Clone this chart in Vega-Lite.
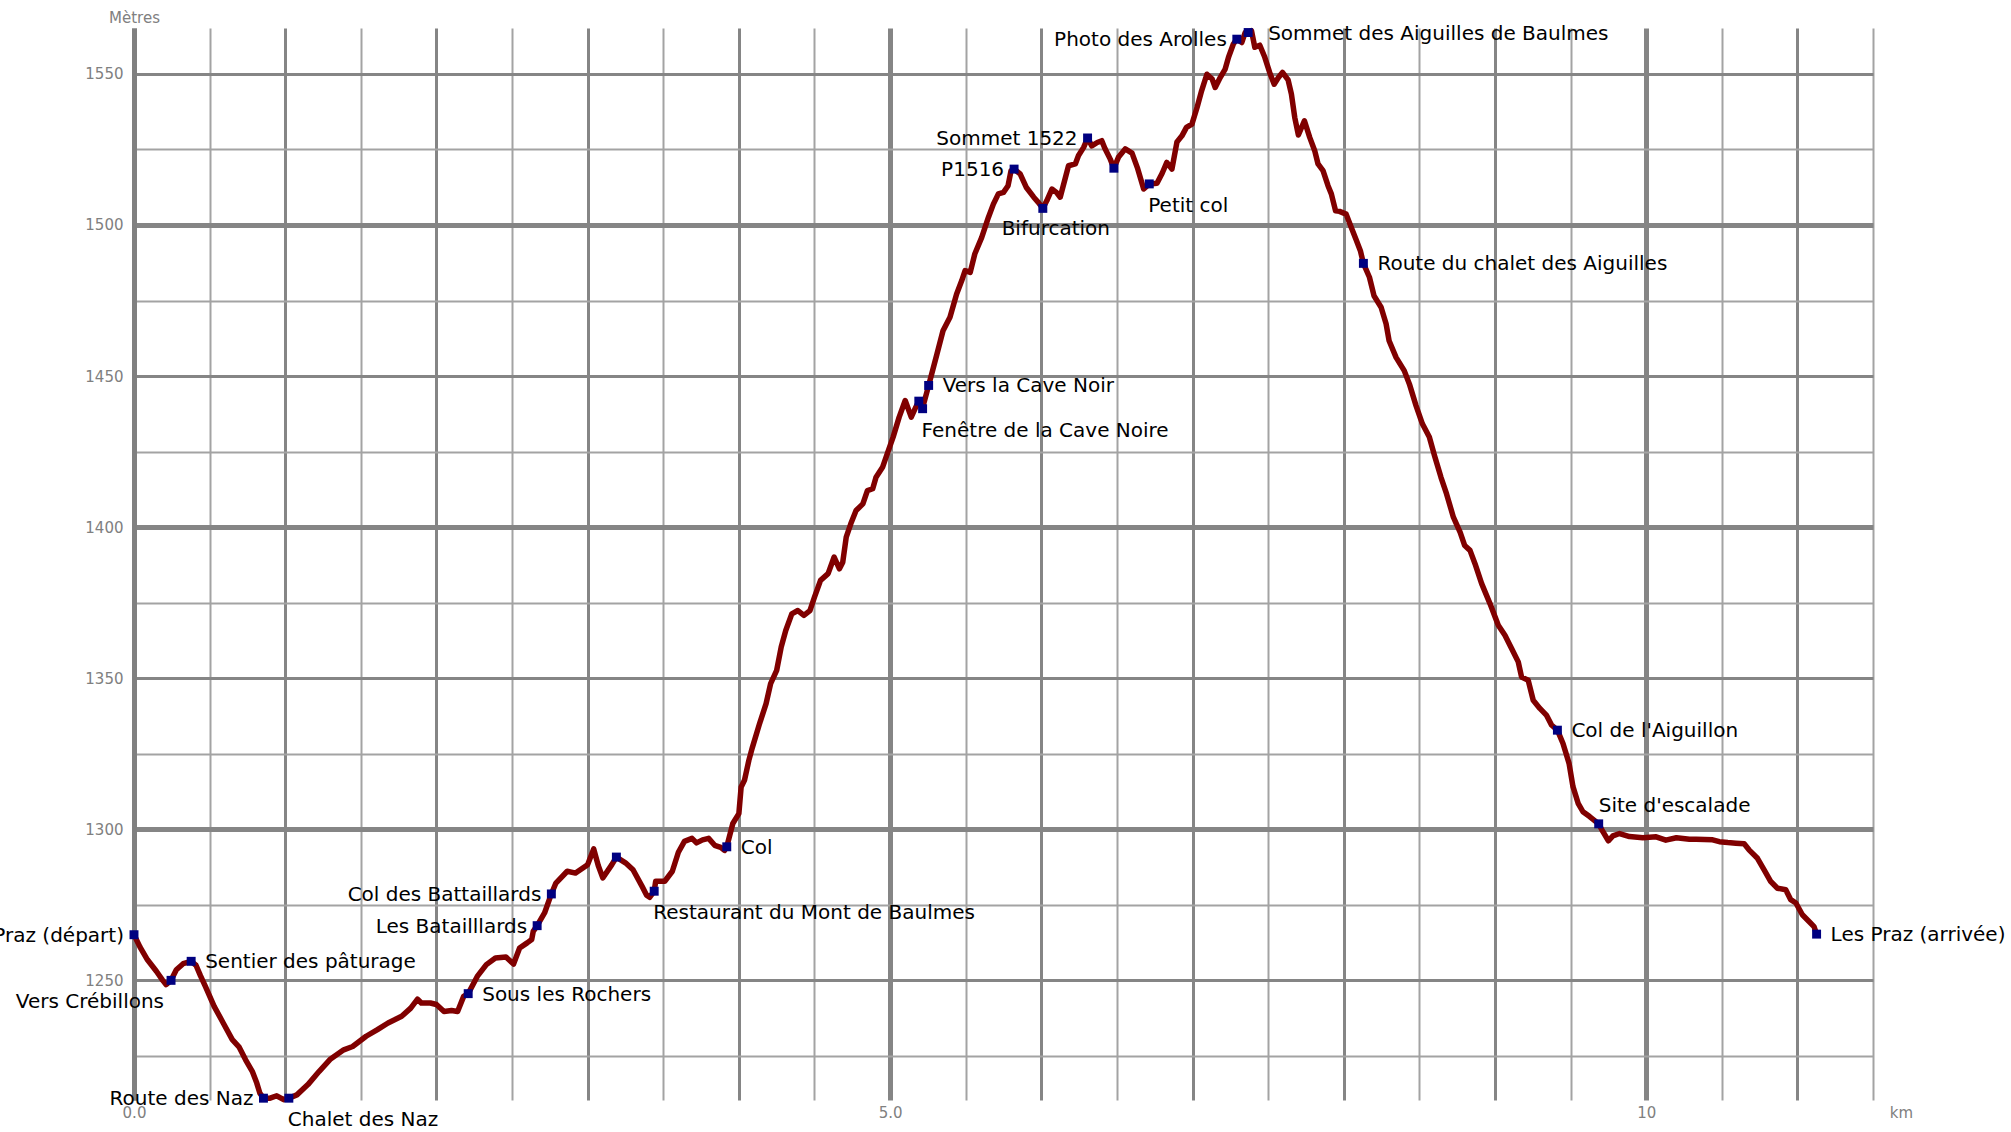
{
  "$schema": "https://vega.github.io/schema/vega-lite/v6.json",
  "width": 1739,
  "height": 1072,
  "autosize": {"type": "none"},
  "padding": {"left": 134, "top": 28, "right": 138, "bottom": 32},
  "background": "white",
  "config": {"view": {"stroke": null}},
  "datasets": {
    "profile": [
      {"km": 0, "alt": 1265.1}, {"km": 0.04, "alt": 1261}, {"km": 0.089, "alt": 1256.8}, {"km": 0.148, "alt": 1253},
      {"km": 0.19, "alt": 1250}, {"km": 0.212, "alt": 1248.6}, {"km": 0.245, "alt": 1250}, {"km": 0.28, "alt": 1253.5},
      {"km": 0.325, "alt": 1255.5}, {"km": 0.378, "alt": 1256.3}, {"km": 0.41, "alt": 1255}, {"km": 0.44, "alt": 1251.5},
      {"km": 0.472, "alt": 1248}, {"km": 0.53, "alt": 1241.4}, {"km": 0.59, "alt": 1235.9}, {"km": 0.65, "alt": 1230.4},
      {"km": 0.694, "alt": 1228}, {"km": 0.738, "alt": 1223.7}, {"km": 0.782, "alt": 1219.9}, {"km": 0.812, "alt": 1216},
      {"km": 0.832, "alt": 1212.7}, {"km": 0.856, "alt": 1211}, {"km": 0.9, "alt": 1211}, {"km": 0.944, "alt": 1211.8},
      {"km": 0.99, "alt": 1210.5}, {"km": 1.024, "alt": 1211}, {"km": 1.077, "alt": 1212.1}, {"km": 1.15, "alt": 1215.5},
      {"km": 1.225, "alt": 1219.9}, {"km": 1.3, "alt": 1224}, {"km": 1.387, "alt": 1227}, {"km": 1.446, "alt": 1228.1},
      {"km": 1.535, "alt": 1231.5}, {"km": 1.61, "alt": 1233.7}, {"km": 1.68, "alt": 1235.9}, {"km": 1.77, "alt": 1238.1},
      {"km": 1.83, "alt": 1240.8}, {"km": 1.875, "alt": 1243.8}, {"km": 1.9, "alt": 1242.5}, {"km": 1.96, "alt": 1242.5},
      {"km": 2.0, "alt": 1242}, {"km": 2.05, "alt": 1239.7}, {"km": 2.1, "alt": 1240}, {"km": 2.14, "alt": 1239.7},
      {"km": 2.18, "alt": 1244.7}, {"km": 2.21, "alt": 1245.6}, {"km": 2.27, "alt": 1251.3}, {"km": 2.33, "alt": 1255.2},
      {"km": 2.39, "alt": 1257.4}, {"km": 2.46, "alt": 1257.7}, {"km": 2.51, "alt": 1255.4}, {"km": 2.55, "alt": 1260.7},
      {"km": 2.6, "alt": 1262.4}, {"km": 2.63, "alt": 1263.5}, {"km": 2.64, "alt": 1266.2}, {"km": 2.666, "alt": 1268.1},
      {"km": 2.715, "alt": 1272.3}, {"km": 2.76, "alt": 1278.6}, {"km": 2.79, "alt": 1282.2}, {"km": 2.865, "alt": 1286.1},
      {"km": 2.92, "alt": 1285.5}, {"km": 3.0, "alt": 1288.3}, {"km": 3.04, "alt": 1293.5}, {"km": 3.07, "alt": 1288},
      {"km": 3.1, "alt": 1283.9}, {"km": 3.16, "alt": 1288.3}, {"km": 3.19, "alt": 1290.8}, {"km": 3.25, "alt": 1288.9},
      {"km": 3.3, "alt": 1286.6}, {"km": 3.36, "alt": 1281.1}, {"km": 3.39, "alt": 1278.2}, {"km": 3.41, "alt": 1277.5},
      {"km": 3.44, "alt": 1279.5}, {"km": 3.45, "alt": 1282.8}, {"km": 3.51, "alt": 1282.8}, {"km": 3.56, "alt": 1286.1},
      {"km": 3.6, "alt": 1292.4}, {"km": 3.64, "alt": 1296}, {"km": 3.69, "alt": 1297}, {"km": 3.72, "alt": 1295.5},
      {"km": 3.76, "alt": 1296.5}, {"km": 3.8, "alt": 1297}, {"km": 3.84, "alt": 1294.7}, {"km": 3.88, "alt": 1294},
      {"km": 3.905, "alt": 1293}, {"km": 3.92, "alt": 1294.2}, {"km": 3.96, "alt": 1301.9}, {"km": 4.0, "alt": 1305.2},
      {"km": 4.015, "alt": 1314}, {"km": 4.037, "alt": 1316.2}, {"km": 4.066, "alt": 1322.8}, {"km": 4.09, "alt": 1327.2},
      {"km": 4.137, "alt": 1335}, {"km": 4.18, "alt": 1341.6}, {"km": 4.21, "alt": 1348.2}, {"km": 4.25, "alt": 1352.6},
      {"km": 4.28, "alt": 1360.3}, {"km": 4.31, "alt": 1365.8}, {"km": 4.35, "alt": 1371.3}, {"km": 4.39, "alt": 1372.4},
      {"km": 4.43, "alt": 1370.8}, {"km": 4.47, "alt": 1372.4}, {"km": 4.5, "alt": 1376.8}, {"km": 4.54, "alt": 1382.4},
      {"km": 4.59, "alt": 1384.6}, {"km": 4.63, "alt": 1390.1}, {"km": 4.665, "alt": 1386.2}, {"km": 4.687, "alt": 1388.4},
      {"km": 4.71, "alt": 1396.7}, {"km": 4.74, "alt": 1401.1}, {"km": 4.775, "alt": 1405.5}, {"km": 4.82, "alt": 1407.7},
      {"km": 4.85, "alt": 1412.1}, {"km": 4.885, "alt": 1412.7}, {"km": 4.907, "alt": 1416.5}, {"km": 4.95, "alt": 1419.8},
      {"km": 4.985, "alt": 1424.8}, {"km": 5.02, "alt": 1429.8}, {"km": 5.06, "alt": 1436.4}, {"km": 5.1, "alt": 1441.9},
      {"km": 5.14, "alt": 1436.4}, {"km": 5.17, "alt": 1439.7}, {"km": 5.19, "alt": 1441.7}, {"km": 5.215, "alt": 1439.5},
      {"km": 5.24, "alt": 1444.1}, {"km": 5.255, "alt": 1446.9}, {"km": 5.31, "alt": 1457.3}, {"km": 5.35, "alt": 1465},
      {"km": 5.396, "alt": 1469.5}, {"km": 5.44, "alt": 1477.2}, {"km": 5.474, "alt": 1481.6}, {"km": 5.496, "alt": 1484.9},
      {"km": 5.53, "alt": 1484.3}, {"km": 5.56, "alt": 1490.4}, {"km": 5.606, "alt": 1495.9}, {"km": 5.65, "alt": 1502.5},
      {"km": 5.683, "alt": 1506.9}, {"km": 5.716, "alt": 1510.3}, {"km": 5.75, "alt": 1510.8}, {"km": 5.78, "alt": 1513},
      {"km": 5.8, "alt": 1518}, {"km": 5.82, "alt": 1518.5}, {"km": 5.86, "alt": 1516.9}, {"km": 5.9, "alt": 1512.5},
      {"km": 5.95, "alt": 1509.2}, {"km": 5.98, "alt": 1507.5}, {"km": 6.01, "alt": 1505.5}, {"km": 6.036, "alt": 1508},
      {"km": 6.07, "alt": 1511.9}, {"km": 6.1, "alt": 1510.8}, {"km": 6.125, "alt": 1509.2}, {"km": 6.16, "alt": 1515.8},
      {"km": 6.18, "alt": 1519.6}, {"km": 6.225, "alt": 1520.2}, {"km": 6.246, "alt": 1523}, {"km": 6.28, "alt": 1525.7},
      {"km": 6.306, "alt": 1528.8}, {"km": 6.334, "alt": 1526.2}, {"km": 6.37, "alt": 1527.3}, {"km": 6.4, "alt": 1527.9},
      {"km": 6.42, "alt": 1525.4}, {"km": 6.456, "alt": 1521.8}, {"km": 6.48, "alt": 1518.8}, {"km": 6.51, "alt": 1522.4},
      {"km": 6.555, "alt": 1525.2}, {"km": 6.6, "alt": 1523.8}, {"km": 6.635, "alt": 1519}, {"km": 6.654, "alt": 1515.8},
      {"km": 6.677, "alt": 1511.9}, {"km": 6.714, "alt": 1513.6}, {"km": 6.765, "alt": 1513.8}, {"km": 6.8, "alt": 1517.2},
      {"km": 6.83, "alt": 1520.7}, {"km": 6.864, "alt": 1518.5}, {"km": 6.897, "alt": 1527.5}, {"km": 6.93, "alt": 1529.5},
      {"km": 6.96, "alt": 1532.3}, {"km": 6.996, "alt": 1533.4}, {"km": 7.03, "alt": 1538.9}, {"km": 7.06, "alt": 1544.4},
      {"km": 7.095, "alt": 1549.9}, {"km": 7.13, "alt": 1548.3}, {"km": 7.15, "alt": 1545.5}, {"km": 7.183, "alt": 1548.8},
      {"km": 7.216, "alt": 1551.6}, {"km": 7.238, "alt": 1555.5}, {"km": 7.27, "alt": 1559.9}, {"km": 7.293, "alt": 1561.5},
      {"km": 7.326, "alt": 1560.4}, {"km": 7.348, "alt": 1563.7}, {"km": 7.368, "alt": 1563.7}, {"km": 7.39, "alt": 1564.3},
      {"km": 7.412, "alt": 1558.8}, {"km": 7.445, "alt": 1559.5}, {"km": 7.478, "alt": 1555.5}, {"km": 7.51, "alt": 1550.5},
      {"km": 7.54, "alt": 1546.6}, {"km": 7.568, "alt": 1548.8}, {"km": 7.595, "alt": 1550.5}, {"km": 7.632, "alt": 1548},
      {"km": 7.654, "alt": 1543.3}, {"km": 7.676, "alt": 1535.6}, {"km": 7.7, "alt": 1529.8}, {"km": 7.74, "alt": 1534.5},
      {"km": 7.775, "alt": 1529.0}, {"km": 7.808, "alt": 1524.6}, {"km": 7.83, "alt": 1520.2}, {"km": 7.863, "alt": 1518},
      {"km": 7.896, "alt": 1513}, {"km": 7.918, "alt": 1510.3}, {"km": 7.946, "alt": 1504.7}, {"km": 7.972, "alt": 1504.5},
      {"km": 8.016, "alt": 1503.6}, {"km": 8.05, "alt": 1499.2}, {"km": 8.08, "alt": 1495.4}, {"km": 8.11, "alt": 1491.5},
      {"km": 8.13, "alt": 1487.3}, {"km": 8.17, "alt": 1482.7}, {"km": 8.2, "alt": 1476.6}, {"km": 8.247, "alt": 1472.8},
      {"km": 8.28, "alt": 1467.3}, {"km": 8.3, "alt": 1461.7}, {"km": 8.346, "alt": 1456.2}, {"km": 8.4, "alt": 1451.8},
      {"km": 8.434, "alt": 1447.4}, {"km": 8.478, "alt": 1440.2}, {"km": 8.52, "alt": 1434.2}, {"km": 8.566, "alt": 1429.8},
      {"km": 8.6, "alt": 1423.7}, {"km": 8.643, "alt": 1416.5}, {"km": 8.68, "alt": 1411}, {"km": 8.725, "alt": 1403.3},
      {"km": 8.77, "alt": 1398.3}, {"km": 8.8, "alt": 1393.9}, {"km": 8.835, "alt": 1392.3}, {"km": 8.868, "alt": 1387.9},
      {"km": 8.912, "alt": 1381.3}, {"km": 8.967, "alt": 1374.7}, {"km": 9.022, "alt": 1367.5}, {"km": 9.066, "alt": 1364.2},
      {"km": 9.11, "alt": 1359.8}, {"km": 9.154, "alt": 1355.4}, {"km": 9.176, "alt": 1350.4}, {"km": 9.22, "alt": 1349.3},
      {"km": 9.253, "alt": 1342.7}, {"km": 9.297, "alt": 1340}, {"km": 9.34, "alt": 1337.8}, {"km": 9.374, "alt": 1334.5},
      {"km": 9.413, "alt": 1332.8}, {"km": 9.45, "alt": 1328.4}, {"km": 9.49, "alt": 1321.8}, {"km": 9.516, "alt": 1314.1},
      {"km": 9.55, "alt": 1308.6}, {"km": 9.582, "alt": 1305.8}, {"km": 9.626, "alt": 1304.2}, {"km": 9.686, "alt": 1301.8},
      {"km": 9.714, "alt": 1299.2}, {"km": 9.75, "alt": 1296.2}, {"km": 9.78, "alt": 1297.8}, {"km": 9.824, "alt": 1298.6},
      {"km": 9.89, "alt": 1297.6}, {"km": 9.978, "alt": 1297.2}, {"km": 10.066, "alt": 1297.5}, {"km": 10.13, "alt": 1296.4},
      {"km": 10.2, "alt": 1297.2}, {"km": 10.286, "alt": 1296.7}, {"km": 10.33, "alt": 1296.7}, {"km": 10.44, "alt": 1296.5},
      {"km": 10.484, "alt": 1295.9}, {"km": 10.54, "alt": 1295.6}, {"km": 10.593, "alt": 1295.4}, {"km": 10.648, "alt": 1295.2},
      {"km": 10.68, "alt": 1293.2}, {"km": 10.736, "alt": 1290.4}, {"km": 10.78, "alt": 1286.6}, {"km": 10.824, "alt": 1282.7},
      {"km": 10.868, "alt": 1280.5}, {"km": 10.923, "alt": 1280}, {"km": 10.956, "alt": 1276.7}, {"km": 10.99, "alt": 1275.6},
      {"km": 11.033, "alt": 1271.7}, {"km": 11.077, "alt": 1269.5}, {"km": 11.11, "alt": 1267.8}, {"km": 11.127, "alt": 1265.3}
    ],
    "points": [
      {"km": 0, "alt": 1265.1, "label": "Les Praz (départ)"},
      {"km": 0.245, "alt": 1250, "label": "Vers Crébillons"},
      {"km": 0.378, "alt": 1256.3, "label": "Sentier des pâturage"},
      {"km": 0.856, "alt": 1211, "label": "Route des Naz"},
      {"km": 1.024, "alt": 1211, "label": "Chalet des Naz"},
      {"km": 2.21, "alt": 1245.6, "label": "Sous les Rochers"},
      {"km": 2.666, "alt": 1268.1, "label": "Les Batailllards"},
      {"km": 2.76, "alt": 1278.6, "label": "Col des Battaillards"},
      {"km": 3.19, "alt": 1290.8, "label": ""},
      {"km": 3.44, "alt": 1279.5, "label": "Restaurant du Mont de Baulmes"},
      {"km": 3.92, "alt": 1294.2, "label": "Col"},
      {"km": 5.19, "alt": 1441.7, "label": ""},
      {"km": 5.215, "alt": 1439.2, "label": "Fenêtre de la Cave Noire"},
      {"km": 5.255, "alt": 1446.9, "label": "Vers la Cave Noir"},
      {"km": 5.82, "alt": 1518.5, "label": "P1516"},
      {"km": 6.01, "alt": 1505.5, "label": "Bifurcation"},
      {"km": 6.306, "alt": 1528.8, "label": "Sommet 1522"},
      {"km": 6.48, "alt": 1518.8, "label": ""},
      {"km": 6.714, "alt": 1513.6, "label": "Petit col"},
      {"km": 7.293, "alt": 1561.5, "label": "Photo des Arolles"},
      {"km": 7.368, "alt": 1563.7, "label": "Sommet des Aiguilles de Baulmes"},
      {"km": 8.13, "alt": 1487.3, "label": "Route du chalet des Aiguilles"},
      {"km": 9.413, "alt": 1332.8, "label": "Col de l'Aiguillon"},
      {"km": 9.686, "alt": 1301.8, "label": "Site d'escalade"},
      {"km": 11.127, "alt": 1265.3, "label": "Les Praz (arrivée)"}
    ]
  },
  "encoding": {
    "x": {
      "field": "km", "type": "quantitative",
      "scale": {"domain": [0, 11.5], "nice": false, "zero": false},
      "axis": {
        "title": "km", "titleX": 1767, "titleY": 12, "titleAlign": "center", "titleBaseline": "middle",
        "titleColor": "#808080", "titleFontSize": 15, "titleFontWeight": "normal", "titleFont": "DejaVu Sans",
        "values": [0, 0.5, 1, 1.5, 2, 2.5, 3, 3.5, 4, 4.5, 5, 5.5, 6, 6.5, 7, 7.5, 8, 8.5, 9, 9.5, 10, 10.5, 11, 11.5],
        "labelExpr": "datum.value === 0 ? '0.0' : datum.value === 5 ? '5.0' : datum.value === 10 ? '10' : ''",
        "labelColor": "#808080", "labelFontSize": 15, "labelFont": "DejaVu Sans", "labelPadding": 5,
        "labelOverlap": false, "labelFlush": false,
        "ticks": false, "domain": false,
        "grid": true, "gridOpacity": 1,
        "gridColor": {"condition": {"test": "datum.value % 1 === 0", "value": "#858585"}, "value": "#a3a3a3"},
        "gridWidth": {"condition": [{"test": "datum.value % 5 === 0", "value": 5}, {"test": "datum.value % 1 === 0", "value": 3}], "value": 2}
      }
    },
    "y": {
      "field": "alt", "type": "quantitative",
      "scale": {"domain": [1210.4, 1565.2], "nice": false, "zero": false},
      "axis": {
        "title": "Mètres", "titleAngle": 0, "titleX": 0, "titleY": -11, "titleAlign": "center", "titleBaseline": "middle",
        "titleColor": "#808080", "titleFontSize": 15, "titleFontWeight": "normal", "titleFont": "DejaVu Sans",
        "values": [1225, 1250, 1275, 1300, 1325, 1350, 1375, 1400, 1425, 1450, 1475, 1500, 1525, 1550],
        "format": "d",
        "labelExpr": "datum.value % 50 === 0 ? datum.label : ''",
        "labelColor": "#808080", "labelFontSize": 15, "labelFont": "DejaVu Sans", "labelPadding": 11,
        "labelOverlap": false,
        "ticks": false,
        "domain": true, "domainColor": "#808080", "domainWidth": 5,
        "grid": true, "gridOpacity": 1,
        "gridColor": {"condition": {"test": "datum.value % 50 === 0", "value": "#858585"}, "value": "#a3a3a3"},
        "gridWidth": {"condition": [{"test": "datum.value % 100 === 0", "value": 5}, {"test": "datum.value % 50 === 0", "value": 3}], "value": 2}
      }
    }
  },
  "layer": [
    {
      "data": {"name": "profile"},
      "mark": {"type": "line", "color": "#800000", "strokeWidth": 5.5, "strokeJoin": "round", "strokeCap": "round"}
    },
    {
      "data": {"name": "points"},
      "mark": {"type": "point", "shape": "square", "filled": true, "size": 80, "color": "#000080", "opacity": 1}
    },
    {
      "data": {"name": "points"},
      "transform": [{"filter": {"field": "label", "oneOf": ["Sentier des pâturage", "Sous les Rochers", "Col", "Vers la Cave Noir", "Route du chalet des Aiguilles", "Col de l'Aiguillon", "Les Praz (arrivée)"]}}],
      "mark": {"type": "text", "align": "left", "baseline": "middle", "dx": 14, "dy": 1, "font": "DejaVu Sans", "fontSize": 20, "color": "black"},
      "encoding": {"text": {"field": "label"}}
    },
    {
      "data": {"name": "points"},
      "transform": [{"filter": {"field": "label", "oneOf": ["Sommet des Aiguilles de Baulmes"]}}],
      "mark": {"type": "text", "align": "left", "baseline": "middle", "dx": 20, "dy": 1, "font": "DejaVu Sans", "fontSize": 20, "color": "black"},
      "encoding": {"text": {"field": "label"}}
    },
    {
      "data": {"name": "points"},
      "transform": [{"filter": {"field": "label", "oneOf": ["Les Praz (départ)", "Route des Naz", "Les Batailllards", "Col des Battaillards", "P1516", "Sommet 1522", "Photo des Arolles"]}}],
      "mark": {"type": "text", "align": "right", "baseline": "middle", "dx": -10, "dy": 1, "font": "DejaVu Sans", "fontSize": 20, "color": "black"},
      "encoding": {"text": {"field": "label"}}
    },
    {
      "data": {"name": "points"},
      "transform": [{"filter": {"field": "label", "oneOf": ["Chalet des Naz", "Restaurant du Mont de Baulmes", "Fenêtre de la Cave Noire", "Petit col"]}}],
      "mark": {"type": "text", "align": "left", "baseline": "middle", "dx": -1, "dy": 22, "font": "DejaVu Sans", "fontSize": 20, "color": "black"},
      "encoding": {"text": {"field": "label"}}
    },
    {
      "data": {"name": "points"},
      "transform": [{"filter": {"field": "label", "oneOf": ["Vers Crébillons"]}}],
      "mark": {"type": "text", "align": "right", "baseline": "middle", "dx": -7, "dy": 22, "font": "DejaVu Sans", "fontSize": 20, "color": "black"},
      "encoding": {"text": {"field": "label"}}
    },
    {
      "data": {"name": "points"},
      "transform": [{"filter": {"field": "label", "oneOf": ["Bifurcation"]}}],
      "mark": {"type": "text", "align": "center", "baseline": "middle", "dx": 13, "dy": 21, "font": "DejaVu Sans", "fontSize": 20, "color": "black"},
      "encoding": {"text": {"field": "label"}}
    },
    {
      "data": {"name": "points"},
      "transform": [{"filter": {"field": "label", "oneOf": ["Site d'escalade"]}}],
      "mark": {"type": "text", "align": "left", "baseline": "middle", "dx": 0, "dy": -18, "font": "DejaVu Sans", "fontSize": 20, "color": "black"},
      "encoding": {"text": {"field": "label"}}
    }
  ]
}
